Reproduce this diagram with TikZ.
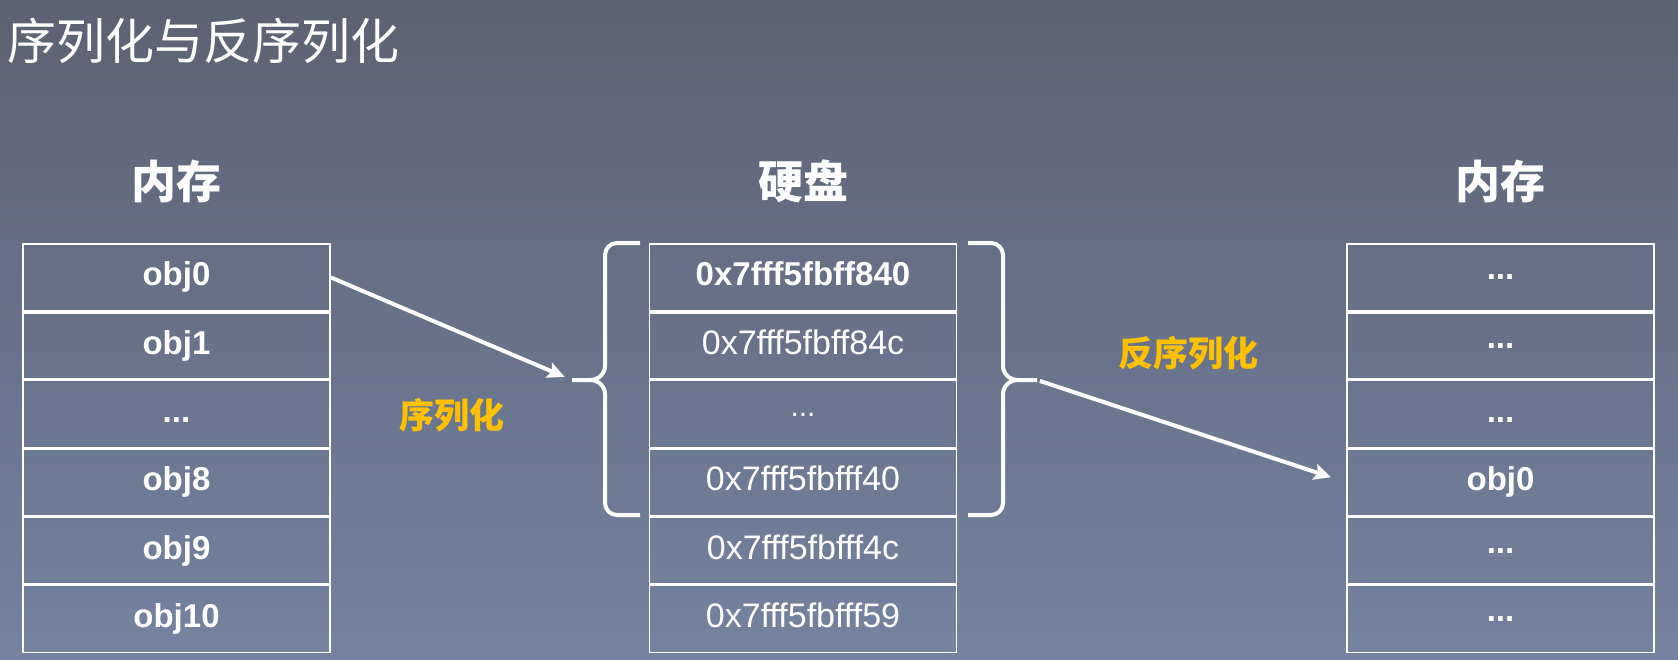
\documentclass[tikz,border=0pt]{standalone}
\usepackage{fontspec}
\setmainfont{Liberation Sans}
\newfontfamily\cjk{Noto Sans CJK SC}
\usetikzlibrary{arrows.meta}
\usetikzlibrary{positioning}

\definecolor{bgtop}{HTML}{5B6273}
\definecolor{bgbot}{HTML}{7483A1}
\definecolor{lblorange}{HTML}{FFC000}

\newcommand{\hidots}{\raisebox{6pt}{...}}

\tikzset{
  cell/.style={draw=white, line width=1.5pt, minimum width=307pt, minimum height=66.8pt,
    inner sep=0pt, text=white, text height=24pt, text depth=7pt,
    font=\fontsize{33}{33}\selectfont\bfseries},
  addr/.style={cell, font=\fontsize{34}{34}\selectfont},
  head/.style={text=white, inner sep=0pt, font=\cjk\bfseries\fontsize{45}{45}\selectfont},
  lbl/.style={text=lblorange, inner sep=0pt, font=\cjk\bfseries\fontsize{35}{35}\selectfont},
  sep/.style={draw=white, line width=4pt},
  brace/.style={draw=white, line width=4pt},
  flow/.style={draw=white, line width=4pt, -{Stealth[length=17pt,width=16pt,inset=3pt]}},
}

\begin{document}
\begin{tikzpicture}[x=1pt, y=1pt]
    \useasboundingbox (0,0) rectangle (1678,-659);
    \shade[top color=bgtop, bottom color=bgbot] (0,0) rectangle (1678,-659);

    \node[anchor=west, inner sep=0pt, text=white, font=\cjk\fontsize{49}{49}\selectfont] (title) at (7,-41) {序列化与反序列化};

    % memory before
    \node[cell] (m0) at (176.5,-277.4) {obj0};
    \node[cell, below=0pt of m0] (m1) {obj1};
    \node[cell, below=0pt of m1] (m2) {...};
    \node[cell, below=0pt of m2] (m3) {obj8};
    \node[cell, below=0pt of m3] (m4) {obj9};
    \node[cell, below=0pt of m4] (m5) {obj10};
    \node[head, above=40pt of m0] (hm) {内存};

    % disk
    \node[addr, right=318pt of m0, font=\fontsize{33}{33}\selectfont\bfseries] (d0) {0x7fff5fbff840};
    \node[addr, below=0pt of d0] (d1) {0x7fff5fbff84c};
    \node[addr, below=0pt of d1, font=\fontsize{30}{30}\selectfont] (d2) {\hidots};
    \node[addr, below=0pt of d2] (d3) {0x7fff5fbfff40};
    \node[addr, below=0pt of d3] (d4) {0x7fff5fbfff4c};
    \node[addr, below=0pt of d4] (d5) {0x7fff5fbfff59};
    \node[head, above=40pt of d0] (hd) {硬盘};

    % memory after
    \node[cell, right=389pt of d0] (r0) {\hidots};
    \node[cell, below=0pt of r0] (r1) {\hidots};
    \node[cell, below=0pt of r1] (r2) {...};
    \node[cell, below=0pt of r2] (r3) {obj0};
    \node[cell, below=0pt of r3] (r4) {\hidots};
    \node[cell, below=0pt of r4] (r5) {\hidots};
    \node[head, above=40pt of r0] (hr) {内存};

    \draw[sep] (m0.south west) -- (m0.south east);
    \draw[sep] (d0.south west) -- (d0.south east);
    \draw[sep] (r0.south west) -- (r0.south east);
    \draw[sep, line width=3pt] (m4.south west) -- (m4.south east);
    \draw[sep, line width=3pt] (d3.south west) -- (d3.south east);
    \draw[sep, line width=3pt] (r4.south west) -- (r4.south east);

    % braces
    \coordinate (lb) at (572,-380);
    \coordinate (rb) at (1037,-380);
    \draw[brace] (640,-243) -- (617,-243) to[out=180,in=90] (605,-255) -- (605,-366)
        to[out=-90,in=0] (590,-380) -- (lb);
    \draw[brace] (590,-380) to[out=0,in=90] (605,-394) -- (605,-503)
        to[out=-90,in=180] (617,-515) -- (640,-515);
    \draw[brace] (968,-243) -- (991,-243) to[out=0,in=90] (1003,-255) -- (1003,-366)
        to[out=-90,in=180] (1018,-380) -- (rb);
    \draw[brace] (1018,-380) to[out=180,in=90] (1003,-394) -- (1003,-503)
        to[out=-90,in=0] (991,-515) -- (968,-515);

    \draw[flow, shorten >=8pt] (m0.east) -- (lb);
    \draw[flow, shorten <=3pt, shorten >=16pt] (rb) -- (r3.west);

    \node[lbl] (ser) at (452,-415) {序列化};
    \node[lbl] (deser) at (1188,-353) {反序列化};
\end{tikzpicture}
\end{document}
